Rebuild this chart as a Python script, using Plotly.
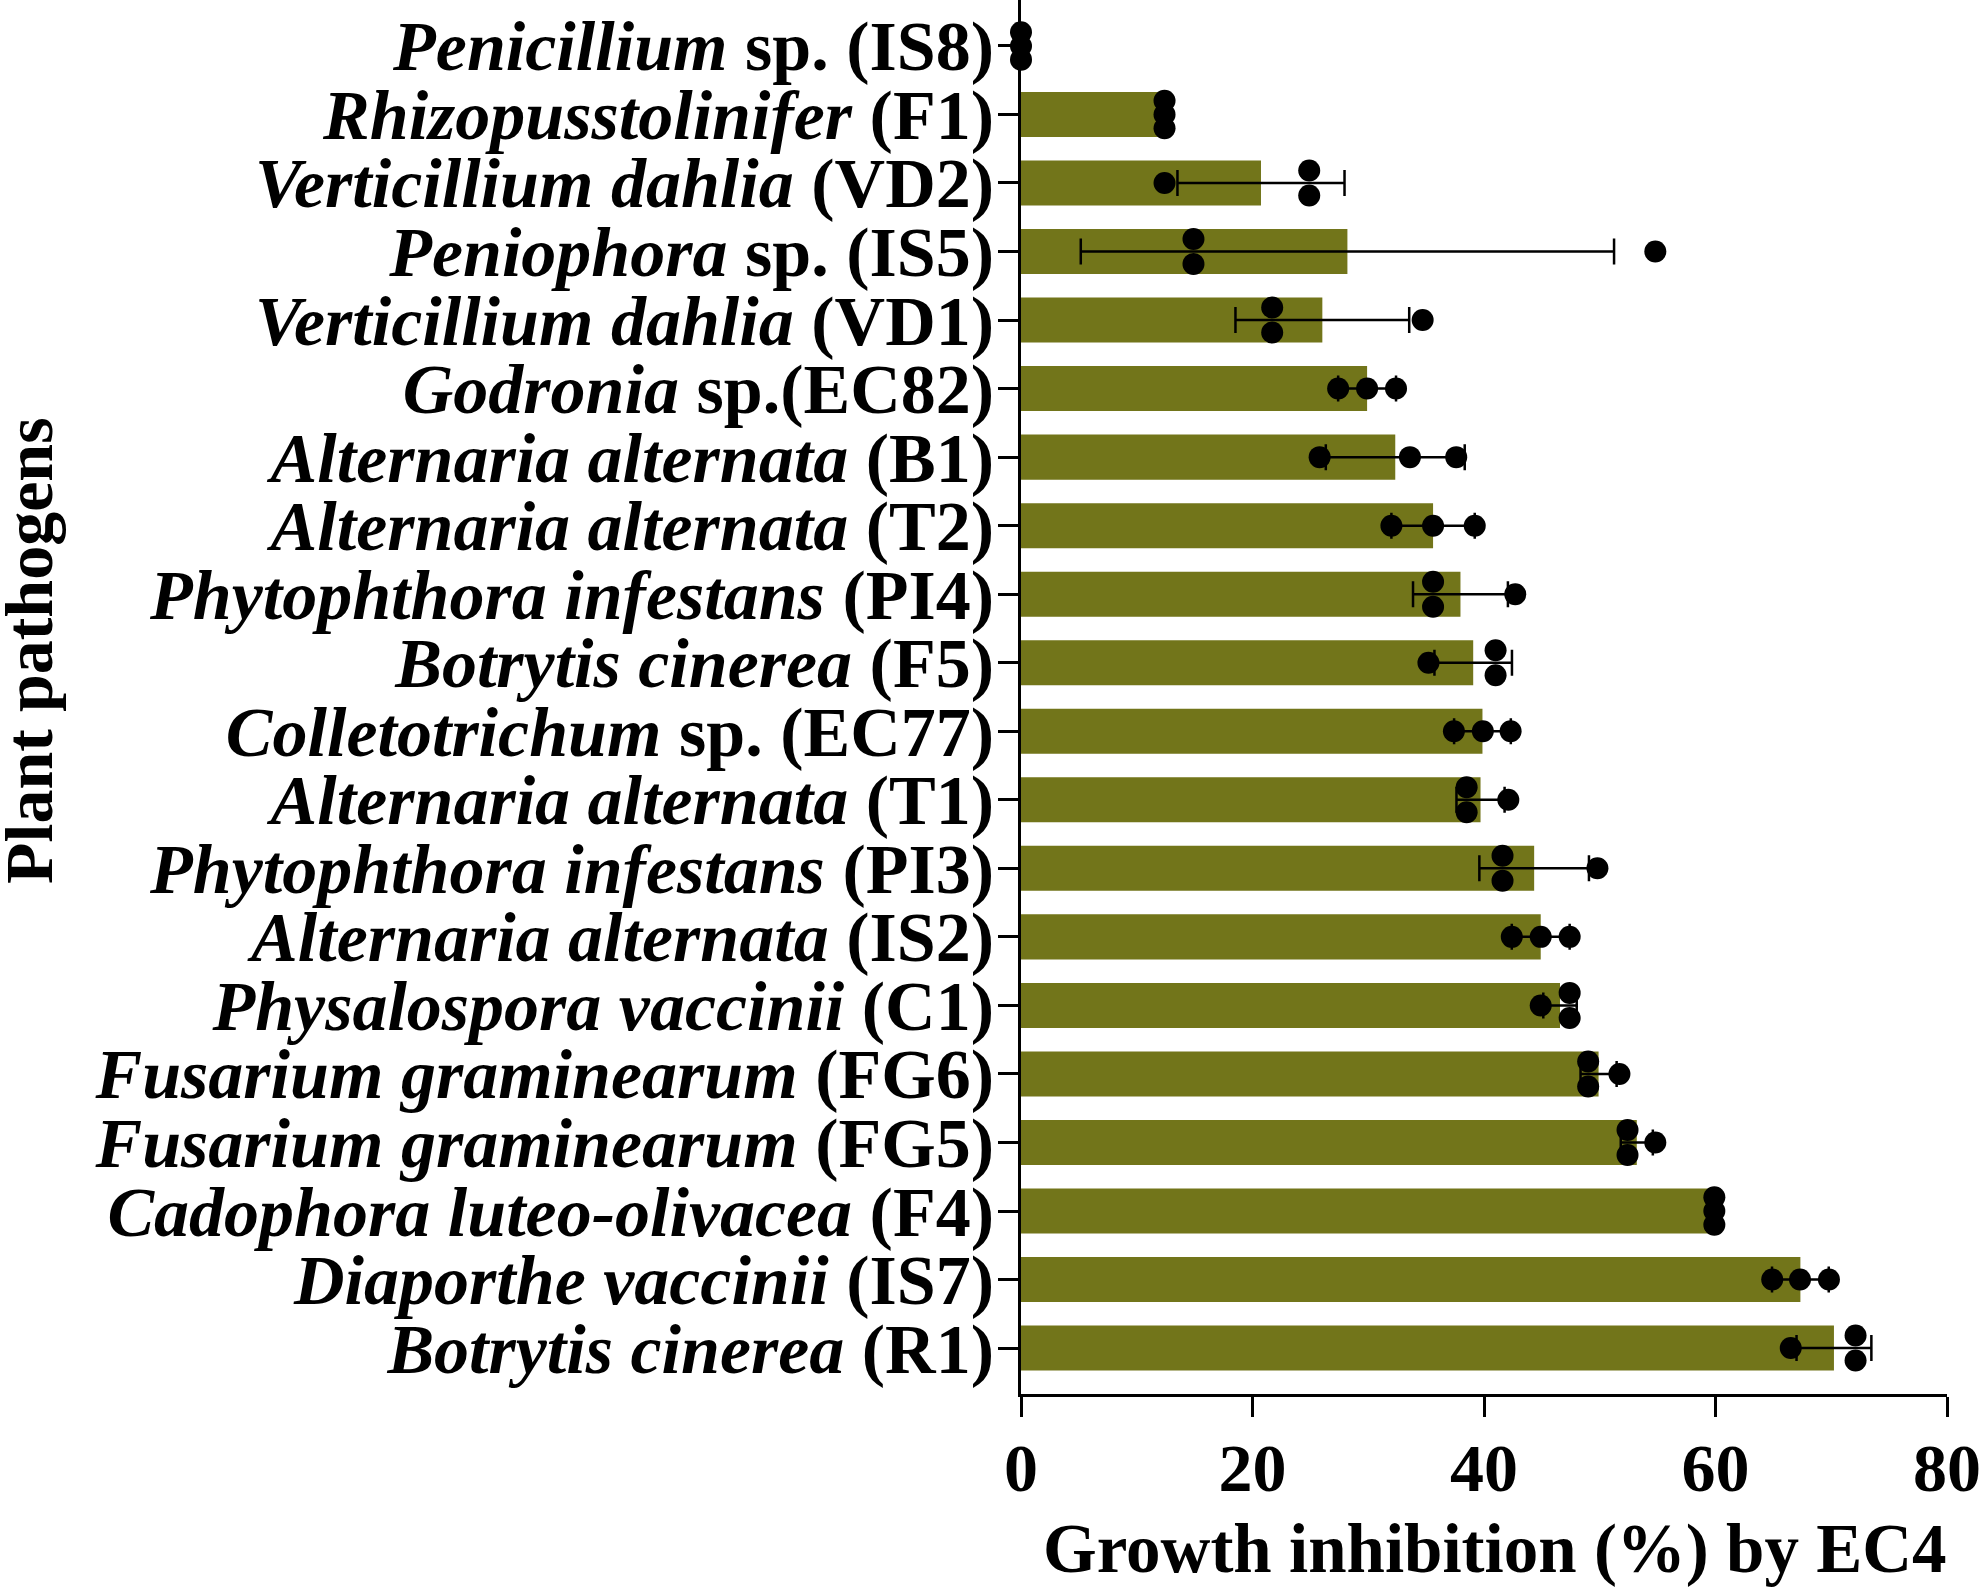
import numpy as np
import plotly.graph_objects as go

# pathogens, top to bottom as in the figure
labels = [
    "<i>Penicillium</i> sp. (IS8)",
    "<i>Rhizopusstolinifer</i> (F1)",
    "<i>Verticillium dahlia</i> (VD2)",
    "<i>Peniophora</i> sp. (IS5)",
    "<i>Verticillium dahlia</i> (VD1)",
    "<i>Godronia</i> sp.(EC82)",
    "<i>Alternaria alternata</i> (B1)",
    "<i>Alternaria alternata</i> (T2)",
    "<i>Phytophthora infestans</i> (PI4)",
    "<i>Botrytis cinerea</i> (F5)",
    "<i>Colletotrichum</i> sp. (EC77)",
    "<i>Alternaria alternata</i> (T1)",
    "<i>Phytophthora infestans</i> (PI3)",
    "<i>Alternaria alternata</i> (IS2)",
    "<i>Physalospora vaccinii</i> (C1)",
    "<i>Fusarium graminearum</i> (FG6)",
    "<i>Fusarium graminearum</i> (FG5)",
    "<i>Cadophora luteo-olivacea</i> (F4)",
    "<i>Diaporthe vaccinii</i> (IS7)",
    "<i>Botrytis cinerea</i> (R1)",
]

# replicate growth inhibition values (%), three per pathogen
rep1 = [0, 12.4, 12.4, 14.9, 21.7, 27.4, 25.8, 32.0, 35.6, 35.2,
        37.4, 38.5, 41.6, 42.4, 44.9, 49.0, 52.4, 59.9, 64.9, 66.5]
rep2 = [0, 12.4, 24.9, 14.9, 21.7, 29.9, 33.6, 35.6, 35.6, 41.0,
        39.9, 38.5, 41.6, 44.9, 47.4, 49.0, 52.4, 59.9, 67.3, 72.1]
rep3 = [0, 12.4, 24.9, 54.8, 34.7, 32.4, 37.6, 39.2, 42.7, 41.0,
        42.3, 42.1, 49.8, 47.4, 47.4, 51.7, 54.8, 59.9, 69.8, 72.1]

reps = np.array([rep1, rep2, rep3]).T
means = reps.mean(axis=1)
sds = reps.std(axis=1, ddof=1)

n = len(labels)
ypos = [n - 1 - i for i in range(n)]

OLIVE = "#72751a"
FONT = "Liberation Serif"

# dot positions: equal values get stacked vertically like in prism
dot_x, dot_y = [], []
for i in range(n):
    groups = {}
    for v in reps[i]:
        groups.setdefault(round(v, 1), []).append(v)
    for v, g in groups.items():
        k = len(g)
        step = 0.365 if k == 2 else 0.2
        for j in range(k):
            dot_x.append(v)
            dot_y.append(ypos[i] + (j - (k - 1) / 2) * step)

W, H = 1983, 1591
L, R, T, B = 1021, 36, 0, 197
pw, ph = W - L - R, H - T - B


def px_x(x):
    return (x - L) / pw


def px_y(y):
    return (H - B - y) / ph


fig = go.Figure()
fig.add_trace(go.Bar(
    x=means, y=ypos, orientation="h", width=0.657,
    marker=dict(color=OLIVE, line=dict(width=0)),
    error_x=dict(type="data", array=sds, color="black", thickness=2.5, width=13),
))
fig.add_trace(go.Scatter(
    x=dot_x, y=dot_y, mode="markers",
    marker=dict(color="black", size=22),
    cliponaxis=False,
))

fig.update_layout(
    width=W, height=H,
    margin=dict(l=L, r=R, t=T, b=B),
    plot_bgcolor="white", paper_bgcolor="white",
    showlegend=False,
    font=dict(family=FONT, color="black"),
)
fig.update_xaxes(
    range=[0, 80], tickvals=[0, 20, 40, 60, 80],
    showline=True, linecolor="black", linewidth=3,
    ticks="outside", ticklen=20, tickwidth=3, tickcolor="black",
    showgrid=False, zeroline=False,
    tickfont=dict(family=FONT, size=68, weight="bold"),
    ticklabelstandoff=-8, ticklabeloverflow="allow",
)
fig.update_yaxes(
    range=[-0.67, 19.67], tickvals=ypos, ticktext=labels,
    showline=True, linecolor="black", linewidth=3,
    ticks="outside", ticklen=20, tickwidth=3, tickcolor="black",
    showgrid=False, zeroline=False,
    tickfont=dict(family=FONT, size=70, weight="bold"),
    ticklabelstandoff=-10, ticklabeloverflow="allow",
)

fig.add_annotation(
    text="Plant pathogens", textangle=-90,
    x=px_x(29), y=px_y(650), xref="paper", yref="paper",
    xanchor="center", yanchor="middle",
    showarrow=False, font=dict(family=FONT, size=68, weight="bold"),
)
fig.add_annotation(
    text="Growth inhibition (%) by EC4",
    x=px_x(1495), y=px_y(1549), xref="paper", yref="paper",
    xanchor="center", yanchor="middle",
    showarrow=False, font=dict(family=FONT, size=69, weight="bold"),
)

# no page margin so the figure sits at the window corner
fig.write_html("out.html", config={"displayModeBar": False},
               post_script="document.body.style.margin='0';")
